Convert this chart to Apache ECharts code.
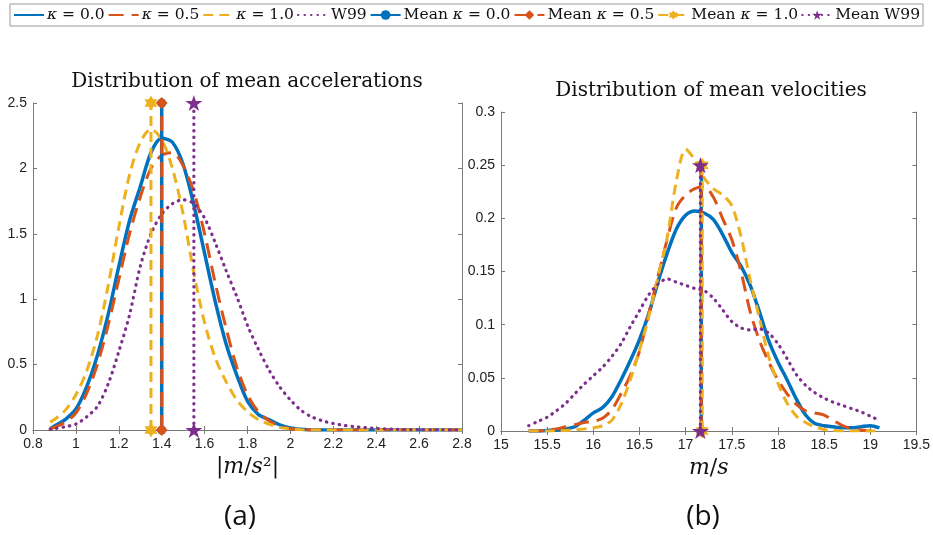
<!DOCTYPE html>
<html><head><meta charset="utf-8">
<script src="https://cdn.jsdelivr.net/npm/echarts@6/dist/echarts.min.js"></script>
<style>html,body{margin:0;padding:0;background:#fff}#c{width:933px;height:535px}</style>
</head><body><div id="c"></div>
<script>
// ---- data ----
const seriesNames = ['κ = 0.0', 'κ = 0.5', 'κ = 1.0', 'W99'];
const meanNames = ['Mean κ = 0.0', 'Mean κ = 0.5', 'Mean κ = 1.0', 'Mean W99'];

const accX = [0.88,0.9,0.95,1.0,1.05,1.1,1.15,1.2,1.25,1.3,1.35,1.4,1.45,1.5,1.55,1.6,1.65,1.7,1.75,1.8,1.85,1.9,1.95,2.0,2.05,2.1,2.15,2.2,2.25,2.3,2.35,2.4,2.5,2.6,2.7,2.8];
const accK0  = [0.01,0.03,0.08,0.16,0.33,0.57,0.88,1.25,1.6,1.86,2.12,2.23,2.2,2.03,1.72,1.35,0.98,0.66,0.42,0.22,0.12,0.08,0.04,0.015,0.005,0,0,0,0,0,0,0,0,0,0,0];
const accK05 = [0.01,0.02,0.06,0.13,0.28,0.5,0.8,1.15,1.5,1.78,2.0,2.1,2.12,2.02,1.82,1.5,1.12,0.78,0.48,0.27,0.14,0.07,0.03,0.01,0.003,0,0,0,0,0,0,0,0,0,0,0];
const accK1  = [0.06,0.08,0.15,0.27,0.45,0.72,1.1,1.55,1.95,2.2,2.3,2.22,2.0,1.65,1.2,0.82,0.55,0.37,0.23,0.14,0.08,0.045,0.02,0.008,0.002,0,0,0,0,0,0,0,0,0,0,0];
const accW99 = [0.005,0.01,0.025,0.045,0.1,0.18,0.35,0.6,0.88,1.25,1.5,1.65,1.73,1.76,1.73,1.62,1.43,1.22,1.02,0.8,0.62,0.46,0.33,0.23,0.15,0.1,0.07,0.05,0.035,0.025,0.018,0.012,0.005,0.002,0.001,0];
const accMeans = [1.40, 1.40, 1.35, 1.55];
const accMeanTop = 2.5;

const velX = [15.3,15.4,15.5,15.6,15.7,15.8,15.9,16.0,16.1,16.2,16.3,16.4,16.5,16.6,16.7,16.8,16.9,17.0,17.1,17.2,17.3,17.4,17.5,17.6,17.7,17.8,17.9,18.0,18.1,18.2,18.3,18.4,18.5,18.6,18.7,18.8,18.9,19.0,19.1];
const velK0  = [0,0,0.0005,0.001,0.002,0.004,0.01,0.017,0.022,0.032,0.048,0.066,0.086,0.11,0.14,0.167,0.19,0.203,0.207,0.205,0.199,0.185,0.168,0.155,0.137,0.112,0.085,0.065,0.048,0.03,0.015,0.007,0.005,0.004,0.003,0.003,0.004,0.005,0.003];
const velK05 = [0,0,0.001,0.002,0.004,0.006,0.008,0.009,0.012,0.02,0.035,0.052,0.075,0.11,0.145,0.18,0.21,0.222,0.228,0.23,0.22,0.2,0.18,0.15,0.112,0.085,0.065,0.048,0.035,0.025,0.019,0.017,0.015,0.01,0.005,0.002,0.001,0,0];
const velK1  = [0,0,0,0,0.0005,0.001,0.002,0.003,0.005,0.01,0.025,0.048,0.076,0.107,0.145,0.182,0.235,0.265,0.255,0.238,0.228,0.222,0.212,0.183,0.142,0.106,0.07,0.045,0.026,0.014,0.008,0.004,0.0015,0.0005,0,0,0,0,0];
const velW99 = [0.005,0.009,0.013,0.019,0.026,0.035,0.044,0.052,0.06,0.07,0.082,0.098,0.113,0.128,0.138,0.143,0.14,0.137,0.134,0.132,0.125,0.114,0.103,0.097,0.095,0.096,0.092,0.082,0.068,0.053,0.043,0.036,0.031,0.027,0.024,0.021,0.018,0.014,0.01];
const velMeans = [17.17, 17.17, 17.18, 17.16];
const velMeanTop = 0.25;

const accTicksX = {min: 0.8, max: 2.8, interval: 0.2};
const accTicksY = {min: 0, max: 2.5, interval: 0.5};
const velTicksX = {min: 15, max: 19.5, interval: 0.5};
const velTicksY = {min: 0, max: 0.3, interval: 0.05};

// ---- styles ----
const colors = ['#0072BD', '#D95319', '#EDB120', '#7E2F8E'];
const dashes = ['solid', [15, 8], [10, 6], [0.5, 6]];
const caps = ['butt', 'butt', 'butt', 'round'];
const widths = [3.5, 3, 3, 3.2];
const pentagram = 'path://M0,-10 L2.245,-3.09 L9.51,-3.09 L3.633,1.18 L5.878,8.09 L0,3.82 L-5.878,8.09 L-3.633,1.18 L-9.51,-3.09 L-2.245,-3.09 Z';
const hexagram = 'path://M0,-10 L2.89,-5 L8.66,-5 L5.77,0 L8.66,5 L2.89,5 L0,10 L-2.89,5 L-8.66,5 L-5.77,0 L-8.66,-5 L-2.89,-5 Z';
const symbols = ['circle', 'diamond', hexagram, pentagram];
const symSizes = [9, 12, 15, 17];

const serif = 'DejaVu Serif';
const sans = 'Liberation Sans';
const axisGray = '#7a7a7a';

function makeAxes(grid, t, pos, isX, name, nameGap) {
  const common = {
    gridIndex: grid, type: 'value', min: t.min, max: t.max, interval: t.interval,
    splitLine: {show: false},
    axisLine: {show: true, lineStyle: {color: axisGray, width: 1}},
    axisTick: {show: true, inside: true, length: 4, lineStyle: {color: axisGray}},
  };
  const main = Object.assign({}, common, {
    position: pos[0],
    axisLabel: {show: true, color: '#222', fontFamily: sans, fontSize: 14, margin: isX ? 7 : 6},
  });
  if (name) {
    Object.assign(main, {
      name: name, nameLocation: 'middle', nameGap: nameGap,
      nameTextStyle: {fontFamily: serif, fontSize: 22, color: '#111',
        rich: {i: {fontFamily: serif, fontStyle: 'italic', fontSize: 22, color: '#111'}}}
    });
  }
  const sec = Object.assign({}, common, {position: pos[1], axisLabel: {show: false}});
  return [main, sec];
}

const xAxes = [
  ...makeAxes(0, accTicksX, ['bottom', 'top'], true, '|{i|m}/{i|s}²|', 24),
  ...makeAxes(1, velTicksX, ['bottom', 'top'], true, '{i|m}/{i|s}', 24),
];
const yAxes = [
  ...makeAxes(0, accTicksY, ['left', 'right'], false),
  ...makeAxes(1, velTicksY, ['left', 'right'], false),
];

function zip(xs, ys) { return xs.map((x, i) => [x, ys[i]]); }

const series = [];
const accData = [accK0, accK05, accK1, accW99];
const velData = [velK0, velK05, velK1, velW99];
[[0, accX, accData, accMeans, accMeanTop], [2, velX, velData, velMeans, velMeanTop]].forEach(([ax, xs, datas, means, top]) => {
  datas.forEach((ys, k) => {
    series.push({
      name: seriesNames[k], type: 'line', xAxisIndex: ax, yAxisIndex: ax,
      data: zip(xs, ys), smooth: 0.3, showSymbol: false, symbol: 'none',
      lineStyle: {color: colors[k], width: widths[k], type: dashes[k], cap: caps[k]},
      itemStyle: {color: colors[k]}, z: 2 + k
    });
  });
  means.forEach((m, k) => {
    series.push({
      name: meanNames[k], type: 'line', xAxisIndex: ax, yAxisIndex: ax,
      data: [[m, 0], [m, top]], symbol: symbols[k], symbolSize: symSizes[k], symbolKeepAspect: true,
      showSymbol: true, clip: false,
      lineStyle: {color: colors[k], width: widths[k], type: dashes[k], cap: caps[k]},
      itemStyle: {color: colors[k]}, z: 10 + k
    });
  });
});

const legendData = seriesNames.map(n => ({name: n, itemStyle: {opacity: 0}}))
  .concat(meanNames.map(n => ({name: n})));

const chart = echarts.init(document.getElementById('c'), null, {renderer: 'canvas'});
chart.setOption({
  animation: false,
  backgroundColor: '#fff',
  legend: {
    data: legendData,
    left: 10, top: 4, width: 922, orient: 'horizontal',
    padding: [3, 3, 3, 3], itemGap: 3, itemWidth: 30, itemHeight: 12,
    borderColor: '#999', borderWidth: 1, borderRadius: 0,
    formatter: n => n.replace('κ', '{i|κ}'),
    textStyle: {fontFamily: serif, fontSize: 15.5, color: '#111', padding: [0, 0, 0, -2],
      rich: {i: {fontFamily: serif, fontStyle: 'italic', fontSize: 15.5, color: '#111'}}}
  },
  grid: [
    {left: 33, top: 103, width: 429, height: 327, containLabel: false},
    {left: 501, top: 112, width: 419, height: 319, containLabel: false}
  ],
  xAxis: xAxes,
  yAxis: yAxes,
  graphic: [
    {type: 'text', x: 247, y: 82, style: {text: 'Distribution of mean accelerations', fontFamily: serif, fontSize: 20, fill: '#111', align: 'center', verticalAlign: 'middle'}},
    {type: 'text', x: 711, y: 91, style: {text: 'Distribution of mean velocities', fontFamily: serif, fontSize: 20, fill: '#111', align: 'center', verticalAlign: 'middle'}},
    {type: 'text', x: 240, y: 517, style: {text: '(a)', fontFamily: 'Open Sans', fontSize: 28, fill: '#111', align: 'center', verticalAlign: 'middle'}},
    {type: 'text', x: 703, y: 517, style: {text: '(b)', fontFamily: 'Open Sans', fontSize: 28, fill: '#111', align: 'center', verticalAlign: 'middle'}}
  ],
  series: series
});
</script>
</body></html>
